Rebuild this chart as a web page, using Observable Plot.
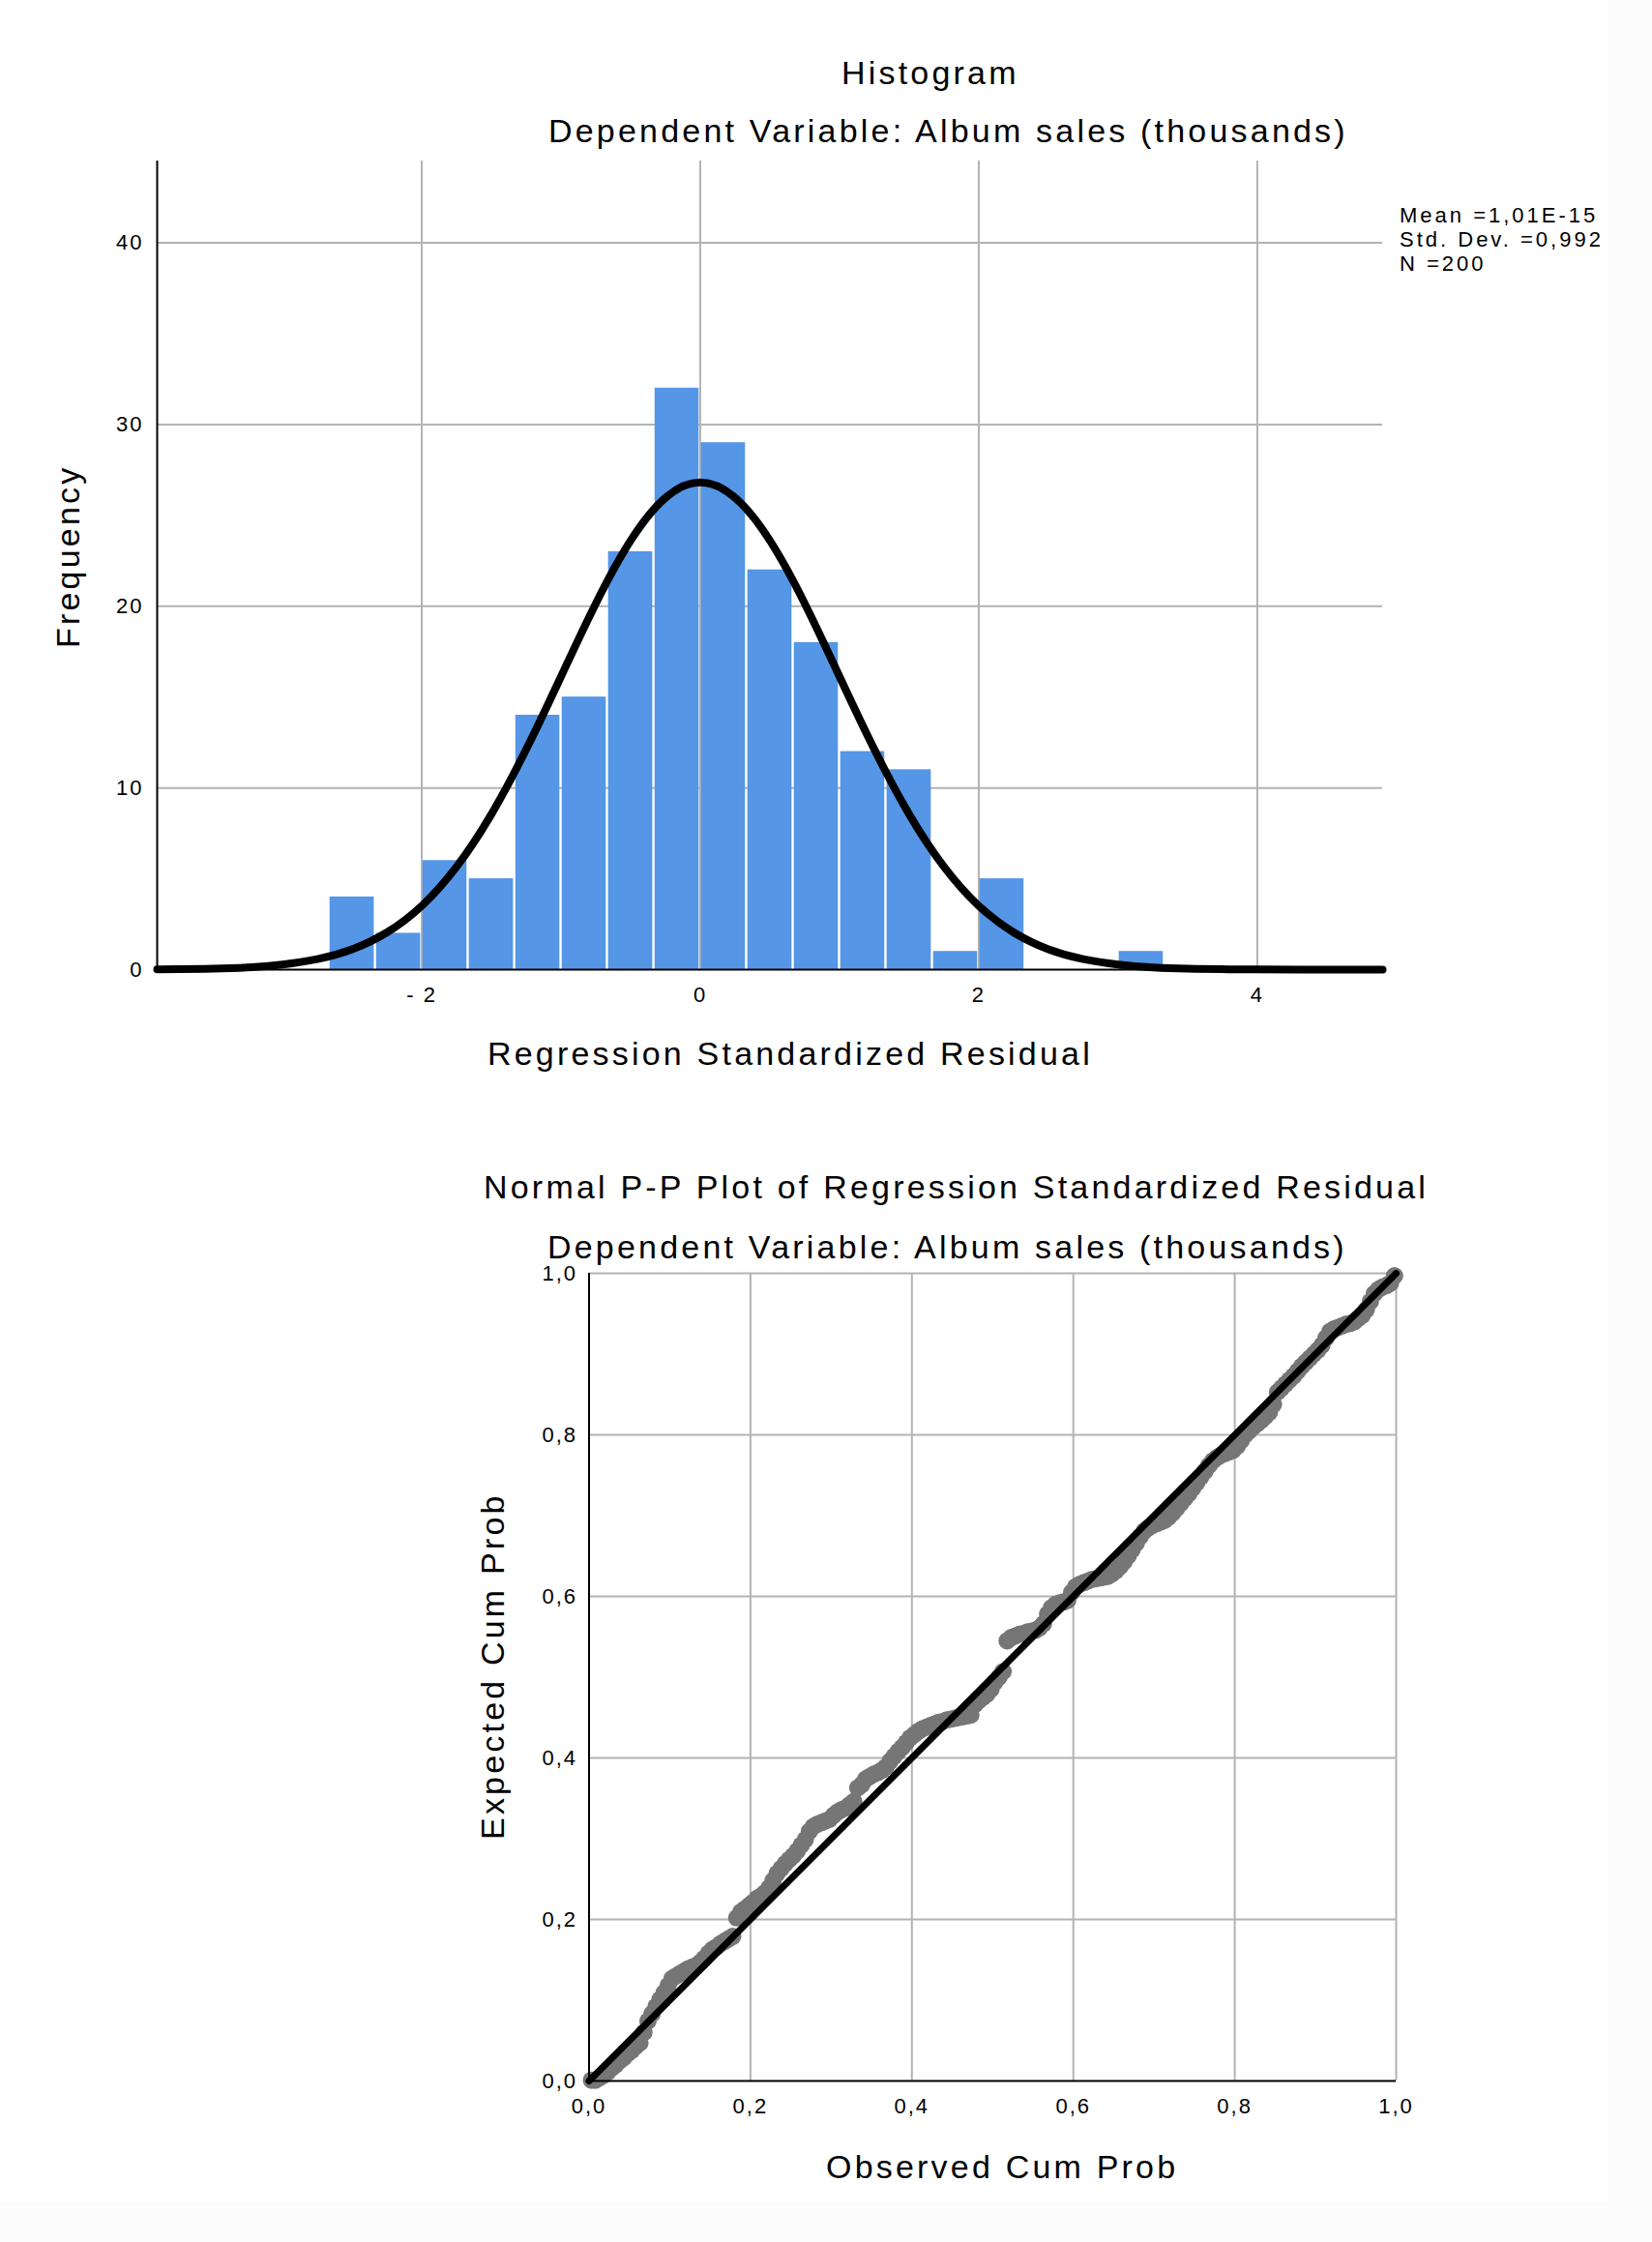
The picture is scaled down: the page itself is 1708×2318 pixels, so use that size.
<!DOCTYPE html>
<html>
<head>
<meta charset="utf-8">
<script src="https://cdn.jsdelivr.net/npm/d3@7"></script>
<script src="https://cdn.jsdelivr.net/npm/@observablehq/plot@0.6"></script>
<style>
  html, body { margin: 0; padding: 0; background: #fcfcfc; }
  #page { position: relative; width: 1708px; height: 2318px; background: #fcfcfc; overflow: hidden;
          font-family: "Liberation Sans", Arial, Helvetica, sans-serif; color: #000; }
  #inner { position: absolute; left: 0; top: 0; width: 1663px; height: 2277px; background: #fff; }
  .t { position: absolute; white-space: nowrap; line-height: 1; }
  .big { font-size: 34px; letter-spacing: 3.2px; }
  .small { font-size: 22px; letter-spacing: 3px; }
  .rot { transform-origin: 0 0; transform: rotate(-90deg); }
  .plotbox { position: absolute; left: 0; }
  .plotbox svg { max-width: none; background: transparent; }
</style>
</head>
<body>
<div id="page">
  <div id="inner"></div>
  <div id="hist" class="plotbox" style="top:0"></div>
  <div id="pp" class="plotbox" style="top:1160px"></div>

  <div class="t big" style="left:870px;top:58px">Histogram</div>
  <div class="t big" style="left:567px;top:118px">Dependent Variable: Album sales (thousands)</div>
  <div class="t small" style="left:1447px;top:212px">Mean =1,01E-15</div>
  <div class="t small" style="left:1447px;top:237px">Std. Dev. =0,992</div>
  <div class="t small" style="left:1447px;top:262px">N =200</div>
  <div class="t big rot" style="left:53px;top:670px">Frequency</div>
  <div class="t big" style="left:504px;top:1072px">Regression Standardized Residual</div>

  <div class="t big" style="left:500px;top:1210px">Normal P-P Plot of Regression Standardized Residual</div>
  <div class="t big" style="left:566px;top:1272px">Dependent Variable: Album sales (thousands)</div>
  <div class="t big rot" style="left:492px;top:1902px">Expected Cum Prob</div>
  <div class="t big" style="left:854px;top:2223px">Observed Cum Prob</div>
</div>
<script>
// ---------- Histogram data ----------
const binEdges = [-2.667,-2.333,-2,-1.667,-1.333,-1,-0.667,-0.333,0,0.333,0.667,1,1.333,1.667,2,2.333,2.667,3,3.333];
const binCounts = [4,2,6,5,14,15,23,32,29,22,18,12,11,1,5,0,0,1];
const histXTicks = [-2,0,2,4];
const histYTicks = [0,10,20,30,40];
const histGridY = [10,20,30,40];
// normal curve values
const curveX = [-3.9,-3.75,-3.5,-3.25,-3,-2.75,-2.5,-2.25,-2,-1.75,-1.5,-1.25,-1,-0.75,-0.5,-0.25,0,0.25,0.5,0.75,1,1.25,1.5,1.75,2,2.25,2.5,2.75,3,3.25,3.5,3.75,4,4.5,4.9];
const curveY = [0.012,0.021,0.053,0.125,0.28,0.575,1.12,2.05,3.51,5.66,8.55,12.12,16.13,20.15,23.61,25.97,26.81,25.97,23.61,20.15,16.13,12.12,8.55,5.66,3.51,2.05,1.12,0.575,0.28,0.125,0.053,0.021,0.008,0.001,0];

// ---------- P-P plot data ----------
const ppObserved = [
0.003,0.008,0.013,0.018,0.023,0.028,0.033,0.038,0.043,0.048,
0.053,0.058,0.063,0.068,0.073,0.078,0.083,0.088,0.093,0.098,
0.103,0.108,0.113,0.118,0.123,0.128,0.133,0.138,0.143,0.148,
0.153,0.158,0.163,0.168,0.173,0.178,0.183,0.188,0.193,0.198,
0.203,0.208,0.213,0.218,0.223,0.228,0.233,0.238,0.243,0.248,
0.253,0.258,0.263,0.268,0.273,0.278,0.283,0.288,0.293,0.298,
0.303,0.308,0.313,0.318,0.323,0.328,0.333,0.338,0.343,0.348,
0.353,0.358,0.363,0.368,0.373,0.378,0.383,0.388,0.393,0.398,
0.403,0.408,0.413,0.418,0.423,0.428,0.433,0.438,0.443,0.448,
0.453,0.458,0.463,0.468,0.473,0.478,0.483,0.488,0.493,0.498,
0.503,0.508,0.513,0.518,0.523,0.528,0.533,0.538,0.543,0.548,
0.553,0.558,0.563,0.568,0.573,0.578,0.583,0.588,0.593,0.598,
0.603,0.608,0.613,0.618,0.623,0.628,0.633,0.638,0.643,0.648,
0.653,0.658,0.663,0.668,0.673,0.678,0.683,0.688,0.693,0.698,
0.703,0.708,0.713,0.718,0.723,0.728,0.733,0.738,0.743,0.748,
0.753,0.758,0.763,0.768,0.773,0.778,0.783,0.788,0.793,0.798,
0.803,0.808,0.813,0.818,0.823,0.828,0.833,0.838,0.843,0.848,
0.853,0.858,0.863,0.868,0.873,0.878,0.883,0.888,0.893,0.898,
0.903,0.908,0.913,0.918,0.923,0.928,0.933,0.938,0.943,0.948,
0.953,0.958,0.963,0.968,0.973,0.978,0.983,0.988,0.993,0.998];
const ppExpected = [
0.001,0.001,0.004,0.007,0.011,0.016,0.020,0.025,0.029,0.034,
0.038,0.043,0.047,0.060,0.074,0.083,0.092,0.101,0.109,0.118,
0.127,0.130,0.133,0.136,0.139,0.141,0.143,0.147,0.152,0.158,
0.163,0.166,0.170,0.173,0.176,0.179,0.202,0.209,0.213,0.217,
0.221,0.226,0.229,0.233,0.239,0.248,0.257,0.263,0.269,0.274,
0.279,0.285,0.292,0.299,0.309,0.315,0.318,0.320,0.322,0.324,
0.329,0.333,0.336,0.338,0.342,0.346,0.363,0.367,0.374,0.377,
0.380,0.382,0.385,0.389,0.396,0.402,0.408,0.413,0.419,0.425,
0.429,0.433,0.436,0.438,0.440,0.442,0.444,0.445,0.447,0.448,
0.449,0.450,0.451,0.452,0.453,0.466,0.471,0.475,0.479,0.485,
0.494,0.500,0.507,0.545,0.549,0.551,0.553,0.554,0.556,0.557,
0.558,0.561,0.566,0.578,0.586,0.590,0.592,0.593,0.595,0.605,
0.612,0.615,0.617,0.619,0.621,0.622,0.623,0.624,0.625,0.628,
0.632,0.637,0.643,0.650,0.658,0.666,0.674,0.681,0.685,0.688,
0.690,0.692,0.694,0.698,0.703,0.709,0.715,0.721,0.727,0.734,
0.741,0.748,0.755,0.762,0.768,0.772,0.775,0.777,0.779,0.781,
0.786,0.793,0.800,0.805,0.810,0.814,0.818,0.823,0.828,0.838,
0.853,0.858,0.863,0.868,0.873,0.879,0.885,0.890,0.895,0.900,
0.905,0.911,0.920,0.928,0.931,0.933,0.935,0.937,0.938,0.940,
0.944,0.948,0.955,0.965,0.975,0.980,0.983,0.985,0.988,0.997];
const ppTicks = [0,0.2,0.4,0.6,0.8,1.0];
const ppGrid = [0.2,0.4,0.6,0.8,1.0];
const refLine = [0,1];

// ---------- build tables ----------
const bars = binCounts.map((c, i) => ({x1: binEdges[i], x2: binEdges[i + 1], y: c}));
const curve = curveX.map((x, i) => ({x, y: curveY[i]}));
const pp = ppObserved.map((o, i) => ({obs: o, exp: ppExpected[i]}));

const GRID = "#b3b3b3";
const baseStyle = {fontFamily: '"Liberation Sans", Arial, Helvetica, sans-serif', fontSize: "22px", letterSpacing: "2px", background: "transparent", color: "#000", overflow: "visible"};

const hist = Plot.plot({
  width: 1708, height: 1160,
  marginLeft: 162, marginRight: 279, marginTop: 166, marginBottom: 158,
  style: baseStyle,
  x: {domain: [-3.9, 4.9]},
  y: {domain: [0, 44.5]},
  marks: [
    Plot.gridX(histXTicks, {stroke: GRID, strokeOpacity: 1, strokeWidth: 2}),
    Plot.gridY(histGridY, {stroke: GRID, strokeOpacity: 1, strokeWidth: 2}),
    Plot.rectY(bars, {x1: "x1", x2: "x2", y: "y", fill: "#5596e6", insetLeft: 1.2, insetRight: 1.2}),
    Plot.line(curve, {x: "x", y: "y", stroke: "#000", strokeWidth: 8, curve: "natural"}),
    Plot.ruleX([-3.9], {stroke: "#000", strokeWidth: 2}),
    Plot.ruleY([0], {stroke: "#000", strokeWidth: 2}),
    Plot.axisX(histXTicks, {tickSize: 0, tickPadding: 18, label: null, fontSize: 22,
      tickFormat: d => d < 0 ? "- " + Math.abs(d) : String(d)}),
    Plot.axisY(histYTicks, {tickSize: 0, tickPadding: 14, label: null, fontSize: 22})
  ]
});
document.getElementById("hist").appendChild(hist);

const fmt = d => d.toFixed(1).replace(".", ",");
const ppPlot = Plot.plot({
  width: 1708, height: 1158,
  marginLeft: 608.5, marginRight: 265, marginTop: 156, marginBottom: 167,
  style: baseStyle,
  x: {domain: [0, 1]},
  y: {domain: [0, 1]},
  marks: [
    Plot.gridX(ppGrid, {stroke: GRID, strokeOpacity: 1, strokeWidth: 2}),
    Plot.gridY(ppGrid, {stroke: GRID, strokeOpacity: 1, strokeWidth: 2}),
    Plot.dot(pp, {x: "obs", y: "exp", r: 9, fill: "#767676", stroke: null}),
    Plot.line(refLine, {x: d => d, y: d => d, stroke: "#000", strokeWidth: 7}),
    Plot.ruleX([0], {stroke: "#000", strokeWidth: 2}),
    Plot.ruleY([0], {stroke: "#000", strokeWidth: 2}),
    Plot.axisX(ppTicks, {tickSize: 0, tickPadding: 18, label: null, fontSize: 22, tickFormat: fmt}),
    Plot.axisY(ppTicks, {tickSize: 0, tickPadding: 12, label: null, fontSize: 22, tickFormat: fmt})
  ]
});
document.getElementById("pp").appendChild(ppPlot);
</script>
</body>
</html>
